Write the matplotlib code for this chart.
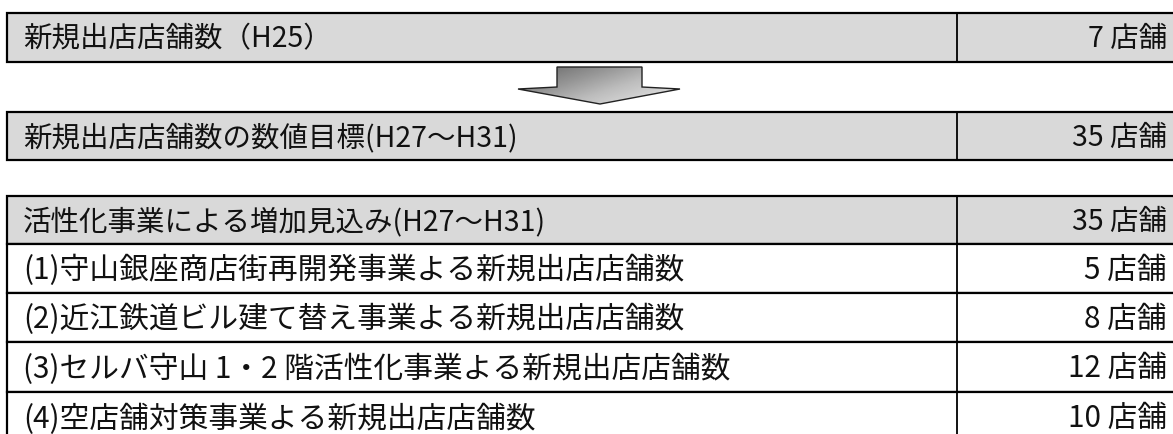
import numpy as np
import matplotlib.pyplot as plt
from matplotlib.patches import Rectangle, Polygon

plt.rcParams['font.family'] = ['Noto Sans CJK JP', 'DejaVu Sans']

# table contents
top_label = "新規出店店舗数（H25）"
top_count = 7
target_label = "新規出店店舗数の数値目標(H27～H31)"
target_count = 35
total_label = "活性化事業による増加見込み(H27～H31)"
total_count = 35
item_labels = [
    "(1)守山銀座商店街再開発事業よる新規出店店舗数",
    "(2)近江鉄道ビル建て替え事業よる新規出店店舗数",
    "(3)セルバ守山 1・2 階活性化事業よる新規出店店舗数",
    "(4)空店舗対策事業よる新規出店店舗数",
]
item_counts = [5, 8, 12, 10]
unit = "店舗"

W, H = 1173, 435
fig = plt.figure(figsize=(W / 100, H / 100), dpi=100)
ax = fig.add_axes([0, 0, 1, 1])
ax.set_xlim(0, W)
ax.set_ylim(H, 0)
ax.axis('off')

x0, x1, xdiv = 7, 1180, 957
gray = '#d9d9d9'


def row(y_top, y_bot, label, count, shaded):
    face = gray if shaded else 'white'
    fs = 20.5 if shaded else 21.4
    ax.add_patch(Rectangle((x0, y_top), x1 - x0, y_bot - y_top, facecolor=face,
                           edgecolor='black', lw=1.6, zorder=1))
    ax.plot([xdiv, xdiv], [y_top, y_bot], color='black', lw=1.3, zorder=2)
    yc = (y_top + y_bot) / 2 + 1
    ax.text(23, yc, label, fontsize=fs, va='center', ha='left', color='#111')
    ax.text(1167, yc, f"{count} {unit}", fontsize=fs, va='center', ha='right',
            color='#111')


row(13.5, 63, top_label, top_count, True)
row(113, 161, target_label, target_count, True)
row(197, 245, total_label, total_count, True)
edges = [245, 293.5, 343, 393, 443]
for i, (lab, cnt) in enumerate(zip(item_labels, item_counts)):
    row(edges[i], edges[i + 1], lab, cnt, False)

# down arrow with grey gradient
pts = [(557, 68), (642, 68), (642, 88), (680, 90), (600, 105), (518, 90), (557, 88)]
arrow = Polygon(pts, closed=True, facecolor='none', edgecolor='#222', lw=1.0, zorder=4)
ax.add_patch(arrow)
gx, gy = np.meshgrid(np.linspace(0, 1, 200), np.linspace(0, 1, 60))
grad = 0.6 * gx + 0.4 * gy
img = ax.imshow(grad, extent=(518, 680, 105, 68), cmap='Greys_r', vmin=-0.6, vmax=1.3,
                aspect='auto', zorder=3, interpolation='bilinear')
img.set_clip_path(arrow)

fig.savefig('out.png', dpi=100)
